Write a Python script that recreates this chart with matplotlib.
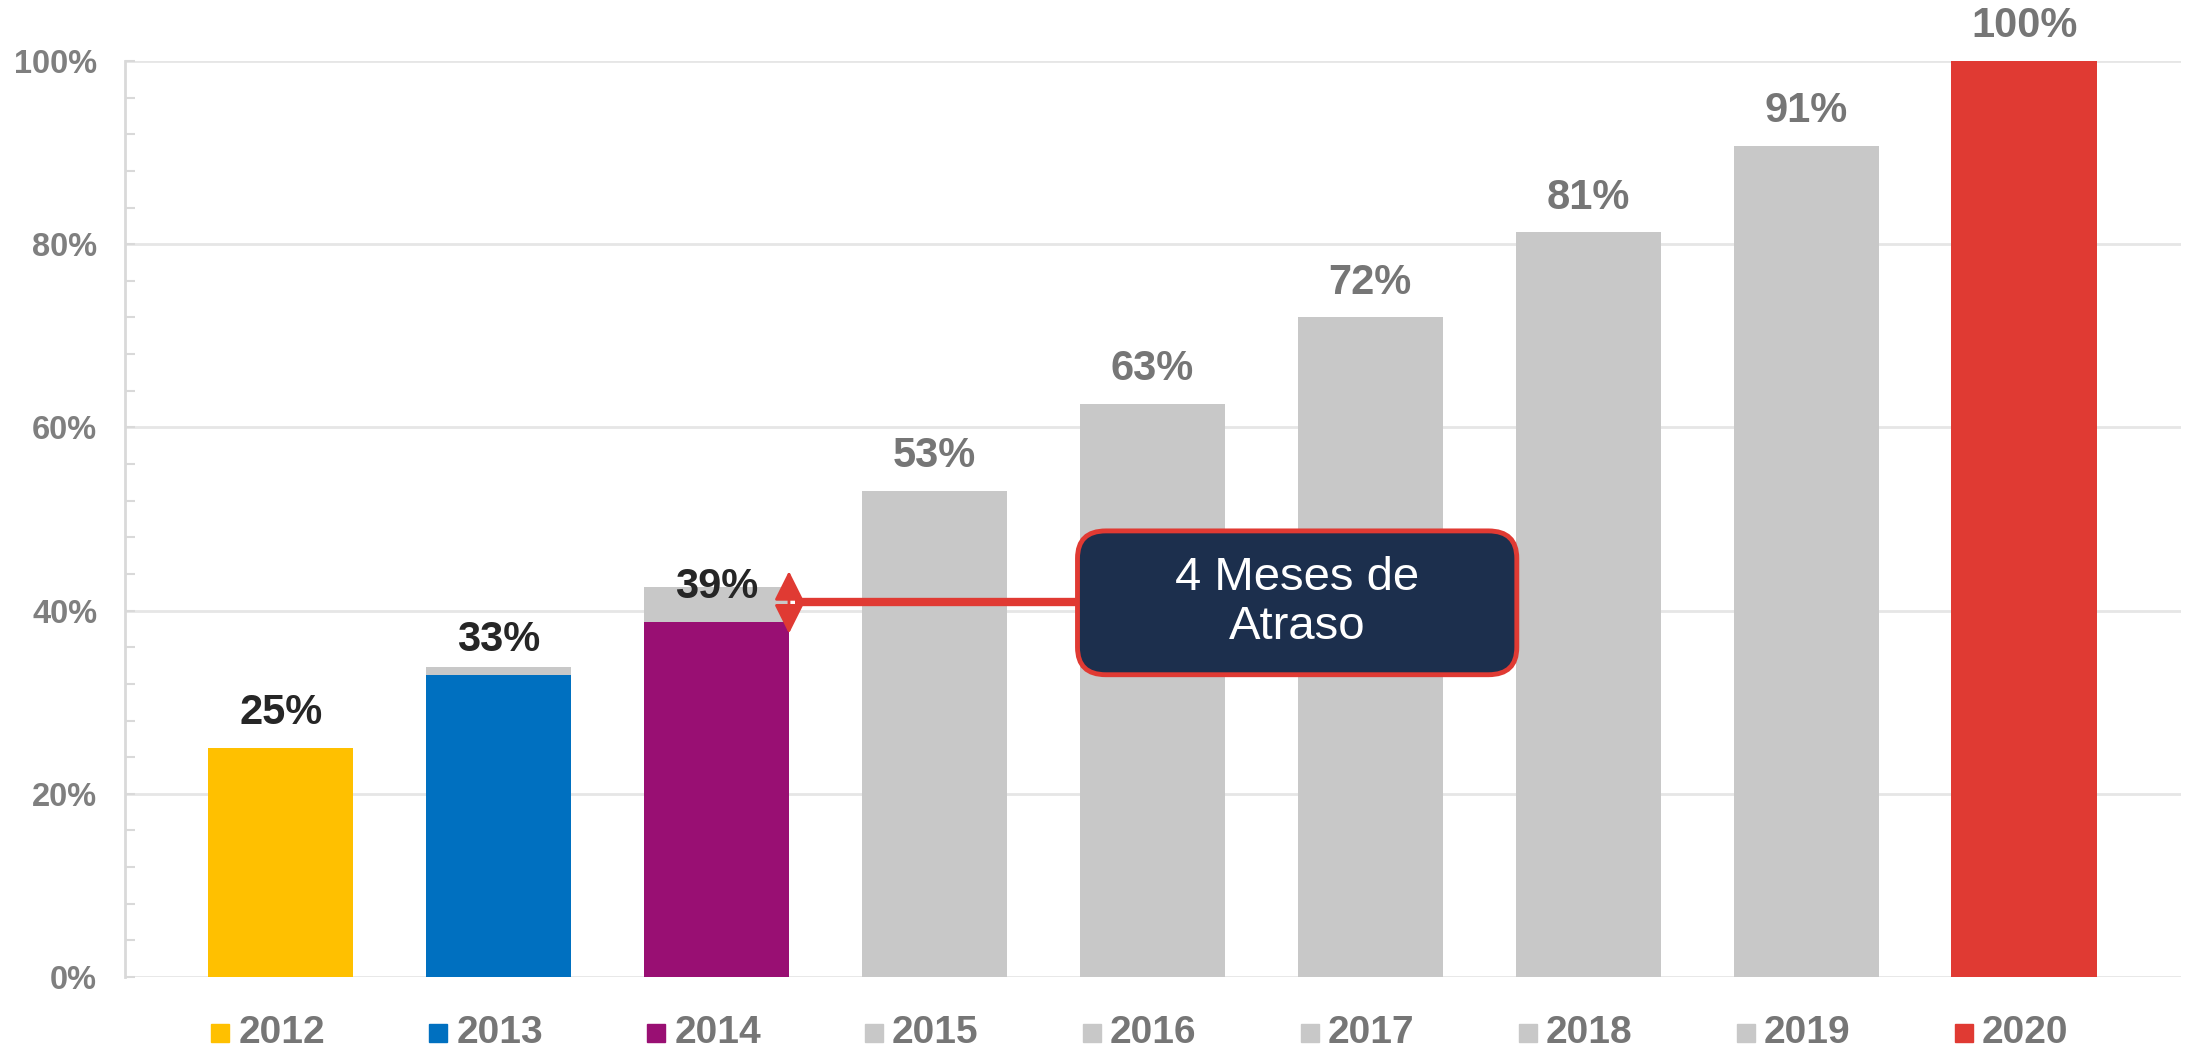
import matplotlib
matplotlib.use("Agg")
import matplotlib.pyplot as plt
from matplotlib.patches import FancyBboxPatch
from matplotlib.ticker import MultipleLocator, FuncFormatter
import matplotlib.transforms as mtrans

years = ['2012', '2013', '2014', '2015', '2016', '2017', '2018', '2019', '2020']
actual = [25.0, 33.0, 38.8, 53.1, 62.6, 72.0, 81.3, 90.7, 100.0]
planned = [25.0, 33.8, 42.6, 53.1, 62.6, 72.0, 81.3, 90.7, 100.0]
labels = ['25%', '33%', '39%', '53%', '63%', '72%', '81%', '91%', '100%']
colors = ['#FFC000', '#0070C0', '#990F73', '#C8C8C8', '#C8C8C8',
          '#C8C8C8', '#C8C8C8', '#C8C8C8', '#E03A33']
label_colors = ['#262626'] * 3 + ['#767676'] * 6
note = '4 Meses de\nAtraso'

plt.rcParams['font.family'] = ['Liberation Sans', 'DejaVu Sans']

fig = plt.figure(figsize=(21.85, 10.52), dpi=100)
ax = fig.add_axes([125 / 2185, 75 / 1052, 2056 / 2185, 916 / 1052])

x = list(range(len(years)))
ax.bar(x, planned, width=0.667, color='#C8C8C8', zorder=2)
ax.bar(x, actual, width=0.667, color=colors, zorder=3)

for i, v in enumerate(actual):
    ax.annotate(labels[i], (i, v), xytext=(0, 25), textcoords='offset points',
                ha='center', va='center', fontsize=30, fontweight='bold',
                color=label_colors[i], zorder=6, annotation_clip=False)

ax.set_xlim(-0.715, 8.72)
ax.set_ylim(0, 100)
ax.yaxis.set_major_locator(MultipleLocator(20))
ax.yaxis.set_minor_locator(MultipleLocator(4))
ax.yaxis.set_major_formatter(FuncFormatter(lambda v, p: f'{v:.0f}%'))
ax.tick_params(axis='y', which='both', direction='in', color='#d9d9d9',
               width=1.5, length=7, labelsize=23.5, labelcolor='#7f7f7f', pad=20)
for t in ax.get_yticklabels():
    t.set_fontweight('bold')
ax.set_xticks([])
ax.yaxis.grid(True, color='#e6e6e6', lw=2)
ax.set_axisbelow(True)
for s in ['top', 'right', 'bottom']:
    ax.spines[s].set_visible(False)
ax.spines['left'].set_color('#d9d9d9')
ax.spines['left'].set_linewidth(2)

# year labels with coloured squares
trans = mtrans.blended_transform_factory(ax.transData, ax.transAxes)
for i, yr in enumerate(years):
    ax.plot(i - 0.278, -0.061, marker='s', ms=13, color=colors[i],
            transform=trans, clip_on=False)
    ax.text(i - 0.195, -0.061, yr, transform=trans, ha='left', va='center',
            fontsize=28, fontweight='bold', color='#767676')

# delay annotation
ax.plot([2.36, 3.66], [40.9, 40.9], color='#E03A33', lw=6, zorder=4,
        solid_capstyle='butt')
ax.annotate('', xy=(2.332, 44.3), xytext=(2.332, 37.5),
            arrowprops=dict(arrowstyle='<|-|>,head_length=0.9,head_width=0.45',
                            color='#E03A33', lw=2, mutation_scale=20,
                            shrinkA=0, shrinkB=0), zorder=5)
box = FancyBboxPatch((3.656, 33.0), 2.016, 15.7,
                     boxstyle='round,pad=0,rounding_size=0.13',
                     mutation_aspect=23, facecolor='#1C2F4D',
                     edgecolor='#E03A33', lw=3.5, zorder=5)
ax.add_patch(box)
ax.text(3.656 + 1.008, 33.0 + 7.85, note, ha='center', va='center',
        color='white', fontsize=34, zorder=6, linespacing=1.15)

fig.savefig('out.png', dpi=100)
